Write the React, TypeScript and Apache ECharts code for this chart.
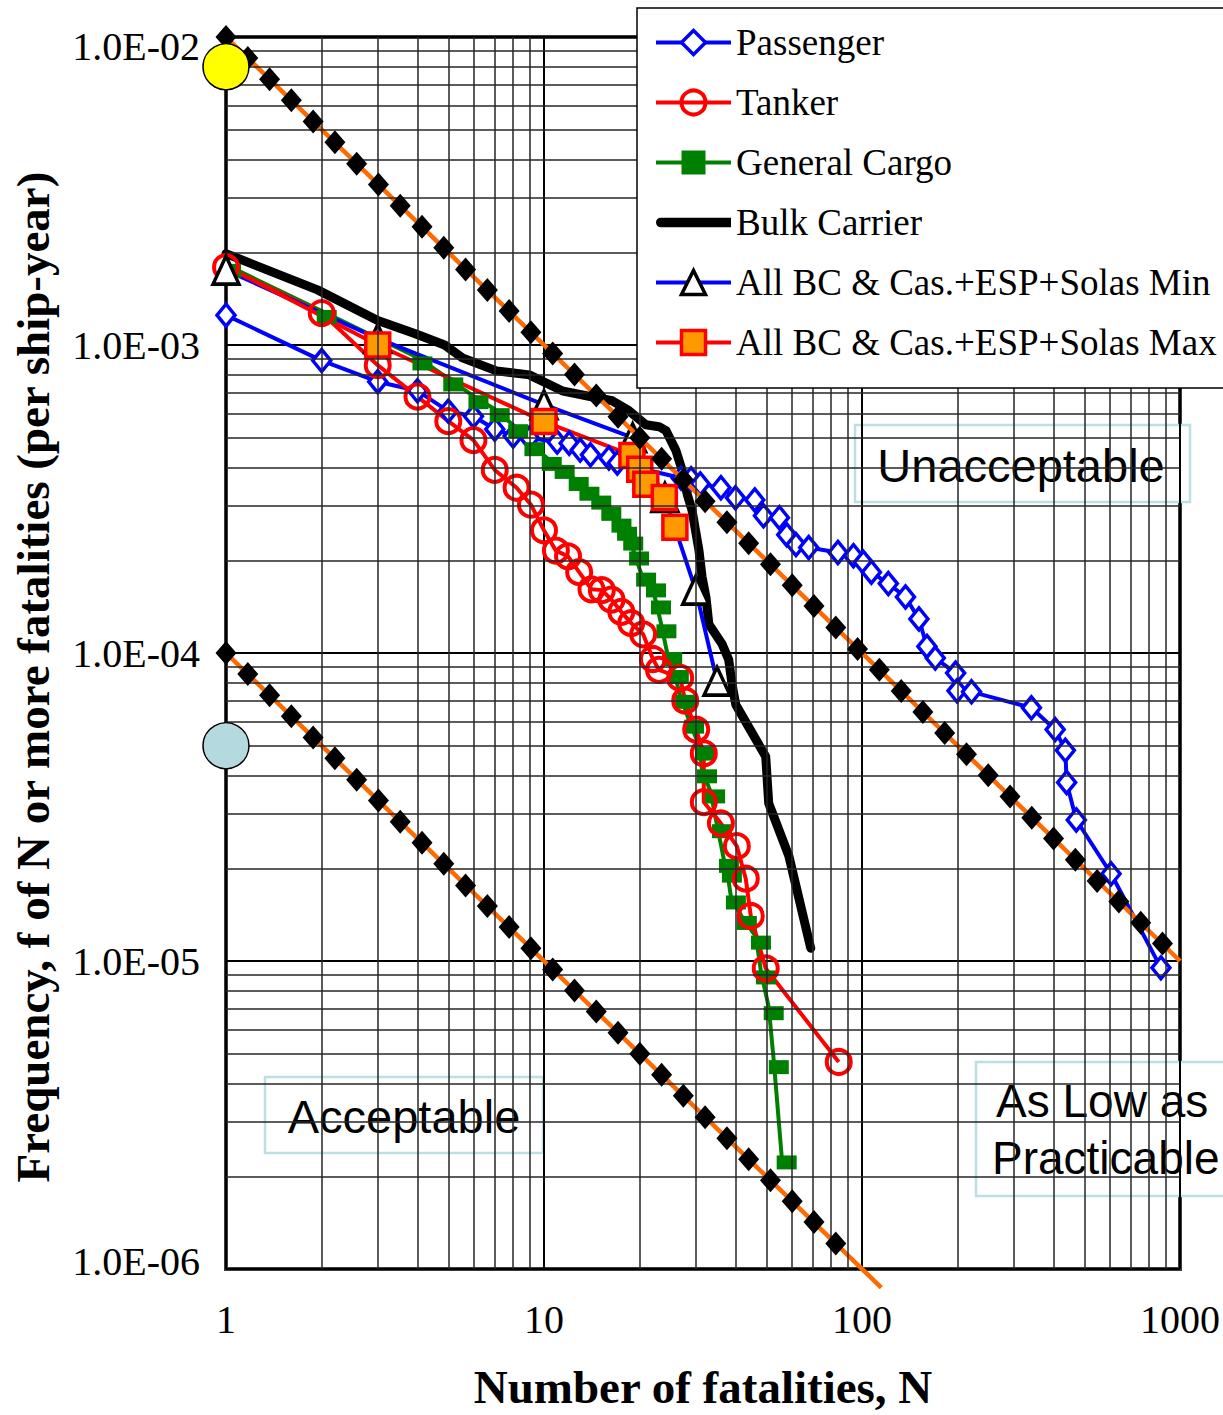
import React, { useEffect, useRef } from "react";
import * as echarts from "echarts";

// ---------- data ----------
const seriesNames = [
  "Passenger",
  "Tanker",
  "General Cargo",
  "Bulk Carrier",
  "All BC & Cas.+ESP+Solas Min",
  "All BC & Cas.+ESP+Solas Max",
];

const passengerN = [1, 2, 3, 4, 5, 6, 7, 8, 9, 11, 12, 13, 14, 16, 17, 27, 29, 31, 36, 40, 46, 49, 55, 58, 62, 68, 84, 94, 101, 107, 121, 137, 151, 160, 170, 197, 199, 221, 341, 405, 436, 440, 472, 607, 871];
const passengerF = [1.25e-3, 8.9e-4, 7.6e-4, 7.1e-4, 6.1e-4, 5.87e-4, 5.33e-4, 5.06e-4, 4.99e-4, 4.84e-4, 4.8e-4, 4.56e-4, 4.4e-4, 4.3e-4, 4.14e-4, 3.7e-4, 3.68e-4, 3.54e-4, 3.44e-4, 3.19e-4, 3.14e-4, 2.79e-4, 2.75e-4, 2.42e-4, 2.25e-4, 2.2e-4, 2.12e-4, 2.07e-4, 1.97e-4, 1.83e-4, 1.68e-4, 1.52e-4, 1.29e-4, 1.05e-4, 9.63e-5, 8.61e-5, 7.54e-5, 7.48e-5, 6.64e-5, 5.64e-5, 4.83e-5, 3.8e-5, 2.87e-5, 1.92e-5, 9.5e-6];

const tankerN = [1, 2, 3, 4, 5, 6, 7, 8.2, 9.1, 10, 10.9, 11.9, 12.9, 14.1, 15.2, 16.3, 17.5, 18.8, 20.5, 22, 23, 26.8, 27.8, 30.1, 31.8, 31.8, 36, 40.4, 43.1, 44.7, 49.8, 84.5];
const tankerF = [1.79e-3, 1.27e-3, 8.6e-4, 6.8e-4, 5.66e-4, 4.91e-4, 3.93e-4, 3.44e-4, 3.03e-4, 2.5e-4, 2.15e-4, 2.06e-4, 1.83e-4, 1.61e-4, 1.6e-4, 1.49e-4, 1.36e-4, 1.25e-4, 1.15e-4, 9.56e-5, 8.81e-5, 8.3e-5, 7.0e-5, 5.64e-5, 4.72e-5, 3.28e-5, 2.8e-5, 2.36e-5, 1.85e-5, 1.4e-5, 9.46e-6, 4.7e-6];

const cargoN = [1, 2, 4, 5, 6, 7, 8, 9, 10.2, 11.2, 12.4, 13.4, 14.6, 15.7, 16.9, 17.6, 18.4, 19.2, 20.2, 21.7, 22.5, 23.4, 24.4, 25.6, 26.8, 28.6, 30.9, 31.4, 33.3, 35, 36.8, 37.6, 38.7, 41.9, 46.4, 48.1, 50.9, 52.8, 55.9];
const cargoF = [1.82e-3, 1.29e-3, 9.11e-4, 7.79e-4, 6.82e-4, 6.19e-4, 5.49e-4, 4.8e-4, 4.3e-4, 4.05e-4, 3.7e-4, 3.44e-4, 3.22e-4, 2.96e-4, 2.71e-4, 2.55e-4, 2.37e-4, 2.12e-4, 1.81e-4, 1.67e-4, 1.47e-4, 1.23e-4, 1.0e-4, 8.74e-5, 7.26e-5, 6.03e-5, 4.93e-5, 4.16e-5, 3.58e-5, 2.76e-5, 2.13e-5, 1.98e-5, 1.62e-5, 1.39e-5, 1.2e-5, 9.25e-6, 7.08e-6, 4.73e-6, 2.32e-6];

const bulkN = [1, 1.94, 3, 3.92, 4.87, 5.54, 7.09, 8.99, 11.4, 14.6, 16.4, 18.5, 20.9, 23, 24.2, 26, 27.2, 28.2, 29.2, 30.7, 31.4, 32.3, 33, 36.3, 38.1, 39, 40.1, 49.8, 50.9, 58.9, 69];
const bulkF = [1.98e-3, 1.51e-3, 1.2e-3, 1.09e-3, 1.0e-3, 9.08e-4, 8.24e-4, 8.0e-4, 7.1e-4, 6.74e-4, 6.59e-4, 6.12e-4, 5.51e-4, 5.43e-4, 5.27e-4, 4.54e-4, 3.92e-4, 3.28e-4, 2.91e-4, 2.16e-4, 1.77e-4, 1.52e-4, 1.24e-4, 1.07e-4, 9.5e-5, 7.94e-5, 6.79e-5, 4.61e-5, 3.25e-5, 2.19e-5, 1.1e-5];

const minN = [1, 3, 10, 19, 24, 30, 35];
const minF = [1.75e-3, 1.05e-3, 6.4e-4, 5.0e-4, 3.2e-4, 1.6e-4, 8.1e-5];

const maxN = [1, 3, 10, 18.9, 20, 20.9, 23.9, 25.8];
const maxF = [1.8e-3, 1.0e-3, 5.64e-4, 4.38e-4, 3.95e-4, 3.53e-4, 3.2e-4, 2.56e-4];

// criterion lines (orange) and their black diamond markers
const upperLineN = [1, 1000];
const upperLineF = [1e-2, 1e-5];
const lowerLineN = [1, 115];
const lowerLineF = [1e-4, 8.7e-7];
const diamondN = [1, 1.171, 1.371, 1.605, 1.879, 2.2, 2.576, 3.016, 3.531, 4.134, 4.84, 5.667, 6.635, 7.768, 9.095, 10.65, 12.47, 14.6, 17.09, 20.01, 23.43, 27.43, 32.11, 37.6, 44.02, 51.54, 60.34, 70.65, 82.71, 96.84, 113.4, 132.8, 155.4, 182, 213.1, 249.4, 292.1, 341.9, 400.3, 468.7, 548.8, 642.5, 752.3, 880.8];
const upperDiamondF = [1e-2, 8.54e-3, 7.29e-3, 6.23e-3, 5.32e-3, 4.55e-3, 3.88e-3, 3.32e-3, 2.83e-3, 2.42e-3, 2.07e-3, 1.76e-3, 1.51e-3, 1.29e-3, 1.1e-3, 9.39e-4, 8.02e-4, 6.85e-4, 5.85e-4, 5.0e-4, 4.27e-4, 3.65e-4, 3.11e-4, 2.66e-4, 2.27e-4, 1.94e-4, 1.66e-4, 1.42e-4, 1.21e-4, 1.03e-4, 8.82e-5, 7.53e-5, 6.43e-5, 5.5e-5, 4.69e-5, 4.01e-5, 3.42e-5, 2.92e-5, 2.5e-5, 2.13e-5, 1.82e-5, 1.56e-5, 1.33e-5, 1.14e-5];
const lowerDiamondF = [1e-4, 8.54e-5, 7.29e-5, 6.23e-5, 5.32e-5, 4.55e-5, 3.88e-5, 3.32e-5, 2.83e-5, 2.42e-5, 2.07e-5, 1.76e-5, 1.51e-5, 1.29e-5, 1.1e-5, 9.39e-6, 8.02e-6, 6.85e-6, 5.85e-6, 5.0e-6, 4.27e-6, 3.65e-6, 3.11e-6, 2.66e-6, 2.27e-6, 1.94e-6, 1.66e-6, 1.42e-6, 1.21e-6];

// big reference circles at N = 1
const yellowPoint = [1, 8e-3];
const bluePoint = [1, 5e-5];

// axes
const xMin = 1, xMax = 1000;
const yMin = 1e-6, yMax = 1e-2;
const xMinorGrid = [2, 3, 4, 5, 6, 7, 8, 9, 20, 30, 40, 50, 60, 70, 80, 90, 200, 300, 400, 500, 600, 700, 800, 900];
const yMinorGrid = [2e-6, 3e-6, 4e-6, 5e-6, 6e-6, 7e-6, 8e-6, 9e-6, 2e-5, 3e-5, 4e-5, 5e-5, 6e-5, 7e-5, 8e-5, 9e-5, 2e-4, 3e-4, 4e-4, 5e-4, 6e-4, 7e-4, 8e-4, 9e-4, 2e-3, 3e-3, 4e-3, 5e-3, 6e-3, 7e-3, 8e-3, 9e-3];

const xTitle = "Number of fatalities, N";
const yTitle = "Frequency, f of N or more fatalities (per ship-year)";
const zoneTexts = ["Unacceptable", "Acceptable", "As Low as", "Practicable"];

// ---------- helpers ----------
const pts = (xs: number[], ys: number[]) => xs.map((x, i) => [x, ys[i]]);

const SERIF = "'Liberation Serif', 'Times New Roman', serif";
const SANS = "'Liberation Sans', Arial, sans-serif";
const LW = 4;

function buildOption() {
  const minorLines = [
    ...xMinorGrid.map((v) => ({ xAxis: v })),
    ...yMinorGrid.map((v) => ({ yAxis: v })),
  ];

  const maxData: any[] = pts(maxN, maxF).map((p, i) =>
    i === 0 ? { value: p, symbol: "none" } : p
  );

  const boxStyle = { fill: "#ffffff", stroke: "#BCDFE4", lineWidth: 2.5 };
  const boxText = (text: string, x: number, y: number, align: string, size = 47) => ({
    type: "text",
    x,
    y,
    style: {
      text,
      fontFamily: SANS,
      fontSize: size,
      fill: "#000",
      align,
      verticalAlign: "middle",
    },
  });

  const legendData: any[] = seriesNames.map((n) =>
    n === "Bulk Carrier"
      ? { name: n, icon: "path://M5,0 H78 V10 H5 A5,5 0 0 1 5,0 Z" }
      : n
  );

  return {
    animation: false,
    backgroundColor: "#ffffff",
    grid: {
      left: 226,
      right: 41,
      top: 37,
      bottom: 140,
      show: true,
      borderColor: "#3c3c3c",
      borderWidth: 4,
      backgroundColor: "transparent",
    },
    xAxis: {
      type: "log",
      logBase: 10,
      min: xMin,
      max: xMax,
      axisLine: { show: false },
      axisTick: { show: false },
      splitLine: { show: true, lineStyle: { color: "#000", width: 2 } },
      axisLabel: {
        margin: 30,
        fontFamily: SERIF,
        fontSize: 40,
        color: "#000",
        formatter: (v: number) => String(Math.round(v)),
      },
      name: xTitle,
      nameLocation: "middle",
      nameGap: 94,
      nameTextStyle: {
        fontFamily: SERIF,
        fontWeight: "bold",
        fontSize: 47,
        color: "#000",
      },
    },
    yAxis: {
      type: "log",
      logBase: 10,
      min: yMin,
      max: yMax,
      axisLine: { show: false },
      axisTick: { show: false },
      splitLine: { show: true, lineStyle: { color: "#000", width: 2 } },
      axisLabel: {
        margin: 26,
        fontFamily: SERIF,
        fontSize: 40,
        color: "#000",
        formatter: (v: number) => {
          const e = Math.round(Math.log10(v));
          const s = "1.0E-" + String(-e).padStart(2, "0");
          if (e === -2) return "{t|" + s + "}";
          if (e === -6) return "{b|" + s + "}";
          return s;
        },
        rich: {
          t: { fontFamily: SERIF, fontSize: 40, color: "#000", padding: [18, 0, 0, 0] },
          b: { fontFamily: SERIF, fontSize: 40, color: "#000", padding: [0, 0, 16, 0] },
        },
      },
      name: yTitle,
      nameLocation: "middle",
      nameGap: 170,
      nameTextStyle: {
        fontFamily: SERIF,
        fontWeight: "bold",
        fontSize: 47,
        color: "#000",
        padding: [0, 48, 0, 0],
      },
    },
    legend: {
      data: legendData,
      orient: "vertical",
      left: 637,
      top: 8,
      z: 50,
      itemWidth: 75,
      itemHeight: 30,
      itemGap: 23,
      padding: [16, 45, 27, 17],
      backgroundColor: "#ffffff",
      borderColor: "#000",
      borderWidth: 1.5,
      selectedMode: false,
      lineStyle: { width: "inherit" },
      itemStyle: { borderWidth: "inherit" },
      textStyle: { fontFamily: SERIF, fontSize: 37, color: "#000" },
    },
    graphic: [
      {
        type: "group",
        z: 10,
        children: [
          { type: "rect", shape: { x: 855, y: 425, width: 335, height: 77 }, style: boxStyle },
          boxText(zoneTexts[0], 1021, 465, "center"),
          { type: "rect", shape: { x: 265, y: 1077, width: 278, height: 76 }, style: boxStyle },
          boxText(zoneTexts[1], 404, 1116, "center"),
          { type: "rect", shape: { x: 976, y: 1062, width: 280, height: 134 }, style: boxStyle },
          boxText(zoneTexts[2], 996, 1101, "left", 46),
          boxText(zoneTexts[3], 992, 1158, "left", 46),
        ],
      },
    ],
    series: [
      {
        type: "line",
        name: "minorGrid",
        data: [],
        silent: true,
        z: 1,
        markLine: {
          silent: true,
          precision: 20,
          symbol: ["none", "none"],
          label: { show: false },
          lineStyle: { color: "#262626", width: 1.5, type: "solid" },
          emphasis: { disabled: true },
          data: minorLines,
        },
      },
      {
        type: "line",
        name: "Passenger",
        data: pts(passengerN, passengerF),
        symbol: "diamond",
        symbolSize: [18, 22],
        clip: false,
        z: 3,
        lineStyle: { color: "#0000FF", width: LW },
        itemStyle: { color: "#ffffff", borderColor: "#0000FF", borderWidth: 3.5 },
      },
      {
        type: "line",
        name: "General Cargo",
        data: pts(cargoN, cargoF),
        symbol: "rect",
        symbolSize: [20, 14],
        symbolOffset: [5, 6],
        clip: false,
        z: 3,
        lineStyle: { color: "#008000", width: LW },
        itemStyle: { color: "#008000", borderWidth: 0 },
      },
      {
        type: "line",
        name: "Tanker",
        data: pts(tankerN, tankerF),
        symbol: "circle",
        symbolSize: 24,
        clip: false,
        z: 3,
        lineStyle: { color: "#FF0000", width: LW },
        itemStyle: { color: "transparent", borderColor: "#FF0000", borderWidth: 4 },
      },
      {
        type: "line",
        name: "Bulk Carrier",
        data: pts(bulkN, bulkF),
        symbol: "none",
        clip: false,
        z: 3,
        lineStyle: { color: "#000000", width: 9, cap: "round", join: "round" },
        itemStyle: { color: "#000000" },
      },
      {
        type: "line",
        name: "All BC & Cas.+ESP+Solas Min",
        data: pts(minN, minF),
        symbol: "triangle",
        symbolSize: [26, 28],
        clip: false,
        z: 3,
        lineStyle: { color: "#0000FF", width: LW },
        itemStyle: { color: "#ffffff", borderColor: "#000000", borderWidth: 3.5 },
      },
      {
        type: "line",
        name: "All BC & Cas.+ESP+Solas Max",
        data: maxData,
        symbol: "rect",
        symbolSize: 24,
        clip: false,
        z: 3,
        lineStyle: { color: "#FF0000", width: LW },
        itemStyle: { color: "#FF9900", borderColor: "#FF0000", borderWidth: 3.5 },
      },
      {
        type: "line",
        name: "upperCriterion",
        data: pts(upperLineN, upperLineF),
        symbol: "none",
        clip: false,
        z: 4,
        lineStyle: { color: "#FF6A00", width: 4.5 },
      },
      {
        type: "line",
        name: "lowerCriterion",
        data: pts(lowerLineN, lowerLineF),
        symbol: "none",
        clip: false,
        z: 4,
        lineStyle: { color: "#FF6A00", width: 4.5 },
      },
      {
        type: "scatter",
        name: "upperDiamonds",
        data: pts(diamondN, upperDiamondF),
        symbol: "diamond",
        symbolSize: [21, 24],
        clip: false,
        z: 5,
        itemStyle: { color: "#000000", opacity: 1 },
      },
      {
        type: "scatter",
        name: "lowerDiamonds",
        data: pts(diamondN.slice(0, lowerDiamondF.length), lowerDiamondF),
        symbol: "diamond",
        symbolSize: [21, 24],
        clip: false,
        z: 5,
        itemStyle: { color: "#000000", opacity: 1 },
      },
      {
        type: "scatter",
        name: "yellowCircle",
        data: [yellowPoint],
        symbol: "circle",
        symbolSize: 46,
        clip: false,
        z: 6,
        itemStyle: { color: "#FFFF00", borderColor: "#000", borderWidth: 1.5, opacity: 1 },
      },
      {
        type: "scatter",
        name: "blueCircle",
        data: [bluePoint],
        symbol: "circle",
        symbolSize: 46,
        clip: false,
        z: 6,
        itemStyle: { color: "#B4DADF", borderColor: "#000", borderWidth: 1.5, opacity: 1 },
      },
    ],
  };
}

export default function App() {
  const ref = useRef<HTMLDivElement>(null);
  useEffect(() => {
    document.body.style.margin = "0";
    document.body.style.overflow = "hidden";
    const chart = echarts.init(ref.current as HTMLDivElement, null, { renderer: "svg" });
    chart.setOption(buildOption() as any);
    return () => chart.dispose();
  }, []);
  return <div ref={ref} style={{ width: 1223, height: 1415 }} />;
}
